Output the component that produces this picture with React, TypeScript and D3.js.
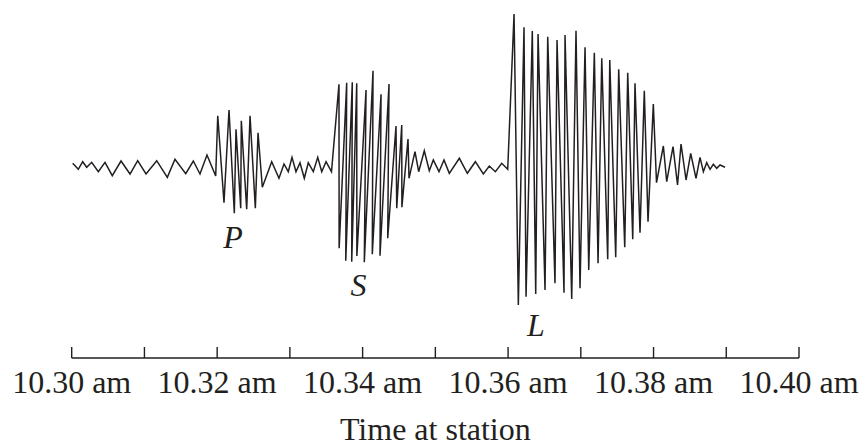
import React, { useEffect, useRef } from 'react';
import * as d3 from 'd3';

// time in minutes after 10.30 am, amplitude in trace units
const noiseBefore = [
  [0.014, 3.7], [0.091, -2.3], [0.151, 5.3], [0.206, -0.3], [0.275, 4.7], [0.366, -4.7],
  [0.458, 4.7], [0.558, -8.7], [0.678, 6], [0.802, -7], [0.907, 6.3], [1.022, -7],
  [1.169, 6.3], [1.315, -10.3], [1.42, 7.7], [1.568, -6.7], [1.672, 6], [1.764, -7],
  [1.86, 12], [1.98, -9],
];

const pWave = [
  [2.008, 51.3], [2.094, -35.7], [2.163, 57], [2.236, -46.3], [2.259, 37.7], [2.324, -41.3],
  [2.332, 46.3], [2.406, -42.3], [2.452, 51.3], [2.525, -41.3], [2.562, 34.3], [2.621, -20.3],
];

const noiseBetween = [
  [2.75, 5.3], [2.85, -11.3], [2.919, 3], [2.978, -4.7], [3.029, 9.7], [3.084, -4.7],
  [3.139, 4.3], [3.198, -11.3], [3.253, 4.3], [3.322, -4.7], [3.383, 9.7], [3.438, -4.7],
  [3.497, 5.3], [3.572, -4.7],
];

const sWave = [
  [3.675, 82.7], [3.677, -81.3], [3.781, 84.3], [3.768, -93.7], [3.858, 84.7], [3.85, -94.7],
  [3.919, 83.7], [3.921, -89], [4.047, 77], [4.023, -95.3], [4.143, 96.3], [4.133, -87.3],
  [4.253, 72.7], [4.239, -88.7], [4.363, 83], [4.345, -71.3], [4.459, 41], [4.469, -41.3],
  [4.538, 42], [4.54, -40.3], [4.624, 28], [4.638, -11.3], [4.72, 15.3], [4.771, -4.7],
  [4.848, 16.3], [4.917, -3.7], [4.972, 7], [5.05, -4.7], [5.119, 7], [5.192, -6.3],
  [5.33, 8.7], [5.44, -6.3], [5.55, 5.3], [5.66, -7], [5.742, 1], [5.825, -4.7],
  [5.913, 3.7], [5.995, -2.3],
];

const lWave = [
  [6.082, 153], [6.141, -138], [6.219, 139.7], [6.247, -129.7], [6.333, 136], [6.38, -127],
  [6.412, 133], [6.508, -123], [6.545, 130.3], [6.645, -116.3], [6.673, 127], [6.769, -125.7],
  [6.783, 132], [6.875, -132], [6.934, 136.3], [6.989, -121.3], [7.058, 119.7], [7.109, -103],
  [7.186, 114.3], [7.237, -96.3], [7.288, 108.7], [7.37, -92.3], [7.398, 107], [7.48, -90.3],
  [7.521, 97.7], [7.604, -80.3], [7.645, 94.3], [7.714, -72.3], [7.745, 83.7], [7.814, -65.7],
  [7.873, 76.3], [7.924, -54.7], [7.997, 63], [8.041, -15.7], [8.135, 21], [8.181, -14.7],
  [8.268, 20.3], [8.33, -18], [8.378, 23], [8.447, -13], [8.511, 13.7], [8.584, -11.3],
  [8.639, 9.7], [8.685, -4.7], [8.731, 4.3], [8.777, -2.3], [8.822, 2.7], [8.869, -1.3],
  [8.914, 2], [8.983, -0.3],
];

const tickMinutes = d3.range(0, 11);
const labelMinutes = [0, 2, 4, 6, 8, 10];
const tickLabels = ['10.30 am', '10.32 am', '10.34 am', '10.36 am', '10.38 am', '10.40 am'];

const phases = [
  { name: 'P', t: 2.218, amp: -81 },
  { name: 'S', t: 3.943, amp: -129 },
  { name: 'L', t: 6.384, amp: -169 },
];

const width = 864;
const height = 446;
const ink = '#231f20';
const serif = '"Liberation Serif", "Times New Roman", Times, serif';

const Seismogram = () => {
  const svgRef = useRef(null);

  useEffect(() => {
    const svg = d3.select(svgRef.current);
    svg.selectAll('*').remove();

    const x = d3.scaleLinear().domain([0, 10]).range([71.7, 799]);
    const y = d3.scaleLinear().domain([-160, 160]).range([327, 7]);

    const trace = [...noiseBefore, ...pWave, ...noiseBetween, ...sWave, ...lWave];

    const line = d3.line()
      .x(d => x(d[0]))
      .y(d => y(d[1]));

    svg.append('path')
      .datum(trace)
      .attr('fill', 'none')
      .attr('stroke', ink)
      .attr('stroke-width', 1.5)
      .attr('stroke-linejoin', 'miter')
      .attr('stroke-miterlimit', 4)
      .attr('d', line);

    svg.append('g')
      .attr('font-family', serif)
      .attr('font-size', 32)
      .attr('font-style', 'italic')
      .attr('fill', ink)
      .attr('text-anchor', 'middle')
      .selectAll('text')
      .data(phases)
      .join('text')
      .attr('x', d => x(d.t))
      .attr('y', d => y(d.amp))
      .text(d => d.name);

    // time axis, ticks pointing up
    const axisY = 358;
    const axis = svg.append('g').attr('stroke', ink).attr('stroke-width', 1.4);
    axis.append('line')
      .attr('x1', x(0)).attr('x2', x(10))
      .attr('y1', axisY).attr('y2', axisY);
    axis.selectAll('.tick')
      .data(tickMinutes)
      .join('line')
      .attr('x1', d => x(d)).attr('x2', d => x(d))
      .attr('y1', axisY - 11).attr('y2', axisY);

    svg.append('g')
      .attr('font-family', serif)
      .attr('font-size', 32)
      .attr('fill', ink)
      .attr('text-anchor', 'middle')
      .selectAll('text')
      .data(labelMinutes)
      .join('text')
      .attr('x', d => x(d))
      .attr('y', 393)
      .text((d, i) => tickLabels[i]);

    svg.append('text')
      .attr('x', x(5))
      .attr('y', 440)
      .attr('font-family', serif)
      .attr('font-size', 32)
      .attr('fill', ink)
      .attr('text-anchor', 'middle')
      .text('Time at station');
  });

  return (
    <svg
      ref={svgRef}
      width={width}
      height={height}
      style={{ position: 'absolute', left: 0, top: 0, background: '#fff' }}
    />
  );
};

export default function App() {
  return <Seismogram />;
}
